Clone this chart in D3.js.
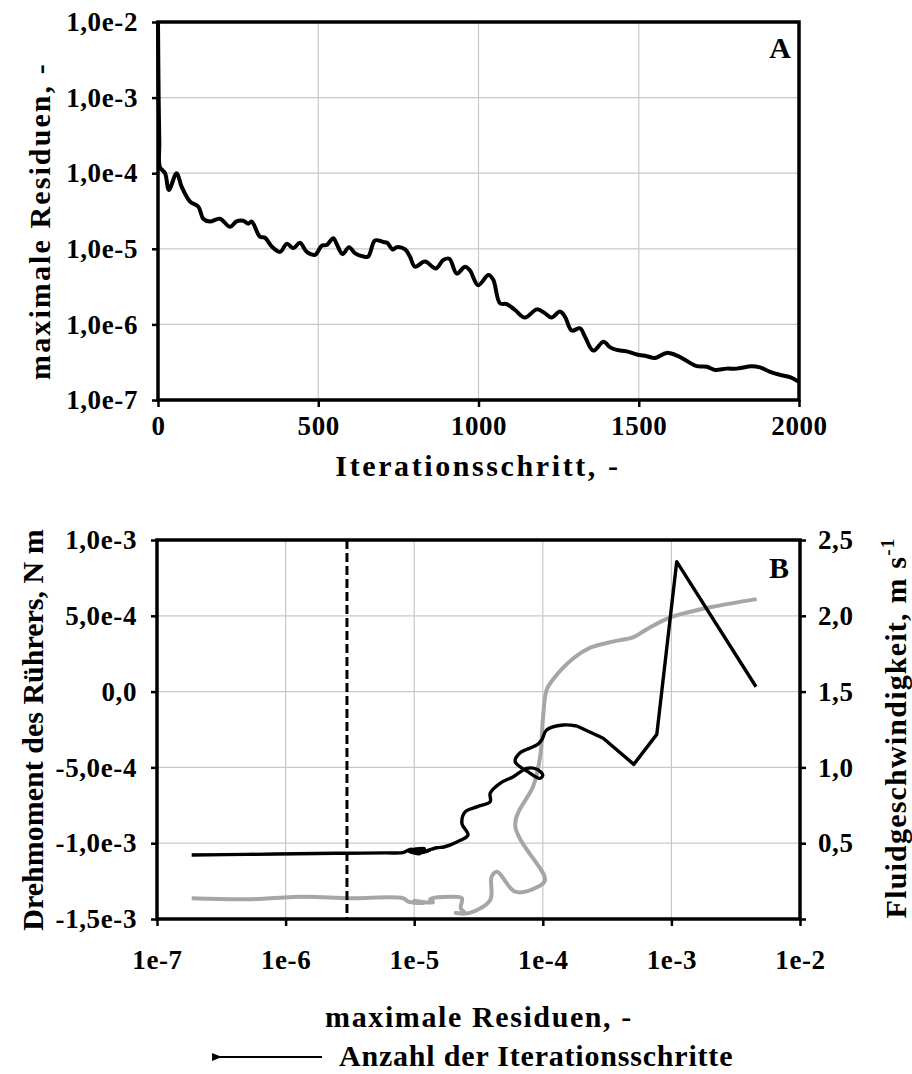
<!DOCTYPE html>
<html lang="de">
<head>
<meta charset="UTF-8">
<title>Residuen</title>
<script src="https://cdn.jsdelivr.net/npm/d3@7"></script>
<style>
  body { margin: 0; background: #fff; }
  text { font-family: "Liberation Serif", "Times New Roman", serif; font-weight: bold; fill: #000; }
</style>
</head>
<body>
<script>
// ---- Daten Diagramm A: maximale Residuen je Iterationsschritt
var iterA = [0, 2, 4, 6, 22, 34, 58, 74, 100, 126, 141, 162, 193, 225, 245, 266, 282, 292, 318, 334, 355, 381,
  402, 422, 443, 464, 490, 511, 526, 547, 557, 576, 596, 615, 641, 656, 677, 703, 715, 732, 745, 771, 786, 802,
  833, 867, 890, 909, 932, 958, 973, 999, 1031, 1046, 1067, 1088, 1114, 1145, 1182, 1207, 1228, 1254, 1270,
  1291, 1317, 1332, 1358, 1390, 1410, 1431, 1462, 1494, 1525, 1551, 1587, 1623, 1649, 1681, 1712, 1738, 1774,
  1805, 1852, 1878, 1910, 1941, 1972, 1998];
var residA = [1.0e-2, 1.0e-3, 2.5e-4, 1.2e-4, 1.0e-4, 6.0e-5, 1.0e-4, 6.6e-5, 4.2e-5, 3.6e-5, 2.5e-5, 2.3e-5,
  2.5e-5, 1.95e-5, 2.3e-5, 2.35e-5, 2.15e-5, 2.3e-5, 1.45e-5, 1.4e-5, 1.07e-5, 9.1e-6, 1.17e-5, 1.02e-5, 1.2e-5,
  9.1e-6, 8.3e-6, 1.1e-5, 1.12e-5, 1.38e-5, 1.17e-5, 8.5e-6, 1.05e-5, 8.7e-6, 7.9e-6, 7.9e-6, 1.29e-5, 1.23e-5,
  1.2e-5, 9.8e-6, 1.05e-5, 9.8e-6, 7.9e-6, 5.8e-6, 6.8e-6, 5.5e-6, 7.1e-6, 7.4e-6, 4.7e-6, 5.8e-6, 5.2e-6,
  3.3e-6, 4.5e-6, 3.9e-6, 1.9e-6, 1.86e-6, 1.55e-6, 1.23e-6, 1.58e-6, 1.41e-6, 1.23e-6, 1.48e-6, 1.26e-6,
  8.3e-7, 8.9e-7, 6.9e-7, 4.5e-7, 5.9e-7, 5.0e-7, 4.6e-7, 4.4e-7, 4.0e-7, 3.8e-7, 3.6e-7, 4.2e-7, 3.8e-7,
  3.3e-7, 2.8e-7, 2.75e-7, 2.5e-7, 2.6e-7, 2.6e-7, 2.8e-7, 2.7e-7, 2.35e-7, 2.15e-7, 2.0e-7, 1.75e-7];

var xTicksA = [0, 500, 1000, 1500, 2000];
var yTicksA = [1e-7, 1e-6, 1e-5, 1e-4, 1e-3, 1e-2];
var yLabelsA = ["1,0e-7", "1,0e-6", "1,0e-5", "1,0e-4", "1,0e-3", "1,0e-2"];

// ---- Daten Diagramm B: Drehmoment und Fluidgeschwindigkeit über maximalen Residuen
var residT = [1.86e-7, 5e-7, 1.75e-6, 3e-6, 6e-6, 8.2e-6, 9.5e-6, 1.1e-5, 9.0e-6, 1.2e-5, 1.05e-5, 1.35e-5,
  1.15e-5, 1.5e-5, 1.7e-5, 2.17e-5, 2.62e-5, 2.35e-5, 2.5e-5, 3.1e-5, 3.9e-5, 3.9e-5, 4.65e-5, 5.9e-5, 7.5e-5,
  9.0e-5, 1.0e-4, 9.5e-5, 7.7e-5, 6.1e-5, 6.6e-5, 9.0e-5, 9.8e-5, 1.07e-4, 1.44e-4, 1.84e-4, 2.95e-4, 5.1e-4,
  7.7e-4, 1.1e-3, 4.55e-3];
var torque = [-1.078e-3, -1.074e-3, -1.068e-3, -1.066e-3, -1.064e-3, -1.062e-3, -1.04e-3, -1.072e-3, -1.05e-3,
  -1.035e-3, -1.07e-3, -1.045e-3, -1.06e-3, -1.03e-3, -1.025e-3, -0.99e-3, -0.946e-3, -0.869e-3, -0.792e-3,
  -0.759e-3, -0.726e-3, -0.67e-3, -0.605e-3, -0.561e-3, -0.506e-3, -0.512e-3, -0.55e-3, -0.572e-3, -0.53e-3,
  -0.462e-3, -0.407e-3, -0.352e-3, -0.319e-3, -0.253e-3, -0.22e-3, -0.227e-3, -0.308e-3, -0.48e-3, -0.282e-3,
  0.857e-3, 0.032e-3];
var straightFrom = 35;   // ab hier gerade Segmente (grobe Schritte)

var residV = [1.86e-7, 5e-7, 1.4e-6, 3.1e-6, 8.2e-6, 9e-6, 1.2e-5, 1.0e-5, 1.4e-5, 1.33e-5, 1.9e-5, 2.35e-5,
  2.3e-5, 2.5e-5, 2.1e-5, 2.7e-5, 3.9e-5, 4.0e-5, 4.4e-5, 6.1e-5, 9.0e-5, 1.04e-4, 6.1e-5, 8.5e-5, 9.6e-5,
  1.0e-4, 1.07e-4, 1.2e-4, 1.73e-4, 2.34e-4, 3.5e-4, 5.07e-4, 6.4e-4, 9.2e-4, 1.3e-3, 2.1e-3, 4.6e-3];
var velocity = [0.137, 0.13, 0.147, 0.137, 0.137, 0.115, 0.105, 0.12, 0.11, 0.13, 0.147, 0.137, 0.07, 0.037,
  0.04, 0.04, 0.125, 0.279, 0.312, 0.18, 0.209, 0.257, 0.62, 0.884, 1.09, 1.31, 1.51, 1.58, 1.72, 1.79, 1.83,
  1.86, 1.91, 1.98, 2.02, 2.06, 2.11];

var markerResid = 3e-6;   // gestrichelte Linie

var xTicksB = [1e-7, 1e-6, 1e-5, 1e-4, 1e-3, 1e-2];
var xLabelsB = ["1e-7", "1e-6", "1e-5", "1e-4", "1e-3", "1e-2"];
var yTicksBL = [-1.5e-3, -1.0e-3, -5e-4, 0, 5e-4, 1e-3];
var yLabelsBL = ["-1,5e-3", "-1,0e-3", "-5,0e-4", "0,0", "5,0e-4", "1,0e-3"];
var yTicksBR = [0, 0.5, 1.0, 1.5, 2.0, 2.5];
var yLabelsBR = ["", "0,5", "1,0", "1,5", "2,0", "2,5"];

// ------------------------------------------------------------------
var W = 912, H = 1074;
var fs = 27, fsT = 30;
var svg = d3.select("body").append("svg").attr("width", W).attr("height", H);

function styleAxis(g) {
  g.select(".domain").remove();
  g.selectAll(".tick line").attr("stroke", "#000").attr("stroke-width", 2.5);
  g.selectAll(".tick text").style("font-size", fs + "px").style("letter-spacing", "0.6px");
}
function frame(x0, x1, y0, y1) {
  svg.append("rect").attr("x", x0).attr("y", y0).attr("width", x1 - x0).attr("height", y1 - y0)
    .attr("fill", "none").attr("stroke", "#000").attr("stroke-width", 3.5);
}
function title(x, y, rot, txt, ls) {
  return svg.append("text")
    .attr("transform", "translate(" + x + "," + y + ")" + (rot ? " rotate(-90)" : ""))
    .attr("text-anchor", "middle").style("font-size", fsT + "px").style("letter-spacing", ls + "px")
    .text(txt);
}

// ================= Diagramm A
var ax0 = 158, ax1 = 799, ay0 = 22, ay1 = 400;
var xA = d3.scaleLinear().domain([0, 2000]).range([ax0, ax1]);
var yA = d3.scaleLog().domain([1e-7, 1e-2]).range([ay1, ay0]);

var gA = svg.append("g");
gA.selectAll("line.gx").data(xTicksA).enter().append("line")
  .attr("x1", d => xA(d)).attr("x2", d => xA(d)).attr("y1", ay0).attr("y2", ay1)
  .attr("stroke", "#c8c8c8").attr("stroke-width", 1.2);
gA.selectAll("line.gy").data(yTicksA).enter().append("line")
  .attr("x1", ax0).attr("x2", ax1).attr("y1", d => yA(d)).attr("y2", d => yA(d))
  .attr("stroke", "#c8c8c8").attr("stroke-width", 1.2);

gA.append("path")
  .datum(iterA.map((d, i) => [d, residA[i]]))
  .attr("fill", "none").attr("stroke", "#000").attr("stroke-width", 4)
  .attr("stroke-linejoin", "round")
  .attr("d", d3.line().x(d => xA(d[0])).y(d => yA(d[1])).curve(d3.curveCatmullRom));

frame(ax0, ax1, ay0, ay1);

svg.append("g").attr("transform", "translate(0," + ay1 + ")")
  .call(d3.axisBottom(xA).tickValues(xTicksA).tickSize(7).tickPadding(9).tickFormat(d3.format("d")))
  .call(styleAxis);
svg.append("g").attr("transform", "translate(" + ax0 + ",0)")
  .call(d3.axisLeft(yA).tickValues(yTicksA).tickSize(6).tickPadding(14)
    .tickFormat((d, i) => yLabelsA[i]))
  .call(styleAxis);

title(478, 476, false, "Iterationsschritt, -", 2.6);
title(50, 221, true, "maximale Residuen, -", 2.1);
svg.append("text").attr("x", 791).attr("y", 58).attr("text-anchor", "end")
  .style("font-size", fsT + "px").text("A");

// ================= Diagramm B
var bx0 = 157, bx1 = 800, by0 = 540, by1 = 919;
var xB = d3.scaleLog().domain([1e-7, 1e-2]).range([bx0, bx1]);
var yBL = d3.scaleLinear().domain([-1.5e-3, 1e-3]).range([by1, by0]);
var yBR = d3.scaleLinear().domain([0, 2.5]).range([by1, by0]);

var gB = svg.append("g");
gB.selectAll("line.gx").data(xTicksB).enter().append("line")
  .attr("x1", d => xB(d)).attr("x2", d => xB(d)).attr("y1", by0).attr("y2", by1)
  .attr("stroke", "#c8c8c8").attr("stroke-width", 1.2);
gB.selectAll("line.gy").data(yTicksBL).enter().append("line")
  .attr("x1", bx0).attr("x2", bx1).attr("y1", d => yBL(d)).attr("y2", d => yBL(d))
  .attr("stroke", "#c8c8c8").attr("stroke-width", 1.2);

gB.append("path")
  .datum(residV.map((d, i) => [d, velocity[i]]))
  .attr("fill", "none").attr("stroke", "#a6a6a6").attr("stroke-width", 4)
  .attr("stroke-linejoin", "round")
  .attr("d", d3.line().x(d => xB(d[0])).y(d => yBR(d[1])).curve(d3.curveCatmullRom));

var ptsT = residT.map((d, i) => [d, torque[i]]);
var lineT = d3.line().x(d => xB(d[0])).y(d => yBL(d[1]));
gB.append("path")
  .datum(ptsT.slice(0, straightFrom + 1))
  .attr("fill", "none").attr("stroke", "#000").attr("stroke-width", 3.4)
  .attr("stroke-linejoin", "round")
  .attr("d", lineT.curve(d3.curveCatmullRom));
gB.append("path")
  .datum(ptsT.slice(straightFrom))
  .attr("fill", "none").attr("stroke", "#000").attr("stroke-width", 3.4)
  .attr("stroke-linejoin", "round")
  .attr("d", lineT.curve(d3.curveLinear));

gB.append("line")
  .attr("x1", xB(markerResid)).attr("x2", xB(markerResid)).attr("y1", by0).attr("y2", by1)
  .attr("stroke", "#000").attr("stroke-width", 3).attr("stroke-dasharray", "9,4");

frame(bx0, bx1, by0, by1);

svg.append("g").attr("transform", "translate(0," + by1 + ")")
  .call(d3.axisBottom(xB).tickValues(xTicksB).tickSize(7).tickPadding(24)
    .tickFormat((d, i) => xLabelsB[i]))
  .call(styleAxis);
svg.append("g").attr("transform", "translate(" + bx0 + ",0)")
  .call(d3.axisLeft(yBL).tickValues(yTicksBL).tickSize(6).tickPadding(14)
    .tickFormat((d, i) => yLabelsBL[i]))
  .call(styleAxis);
svg.append("g").attr("transform", "translate(" + bx1 + ",0)")
  .call(d3.axisRight(yBR).tickValues(yTicksBR).tickSize(6).tickPadding(12)
    .tickFormat((d, i) => yLabelsBR[i]))
  .call(styleAxis);

svg.append("text").attr("x", 789).attr("y", 578).attr("text-anchor", "end")
  .style("font-size", fsT + "px").text("B");

title(479, 1027, false, "maximale Residuen, -", 1.6);
title(43, 730, true, "Drehmoment des Rührers, N m", 0);

var tR = title(906, 728, true, "", 1.2);
tR.append("tspan").text("Fluidgeschwindigkeit, m s");
tR.append("tspan").attr("dy", -12).style("font-size", "19px").text("-1");

// Pfeil "Anzahl der Iterationsschritte"
svg.append("defs").append("marker").attr("id", "ah").attr("viewBox", "0 0 10 10")
  .attr("refX", 2).attr("refY", 5).attr("markerWidth", 4.5).attr("markerHeight", 4.5).attr("orient", "auto")
  .append("path").attr("d", "M10,1 L0,5 L10,9 Z").attr("fill", "#000");
svg.append("line").attr("x1", 322).attr("x2", 220).attr("y1", 1057).attr("y2", 1057)
  .attr("stroke", "#000").attr("stroke-width", 2.2).attr("marker-end", "url(#ah)");
svg.append("text").attr("x", 339).attr("y", 1066).style("font-size", fsT + "px").style("letter-spacing", "0.8px")
  .text("Anzahl der Iterationsschritte");
</script>
</body>
</html>
